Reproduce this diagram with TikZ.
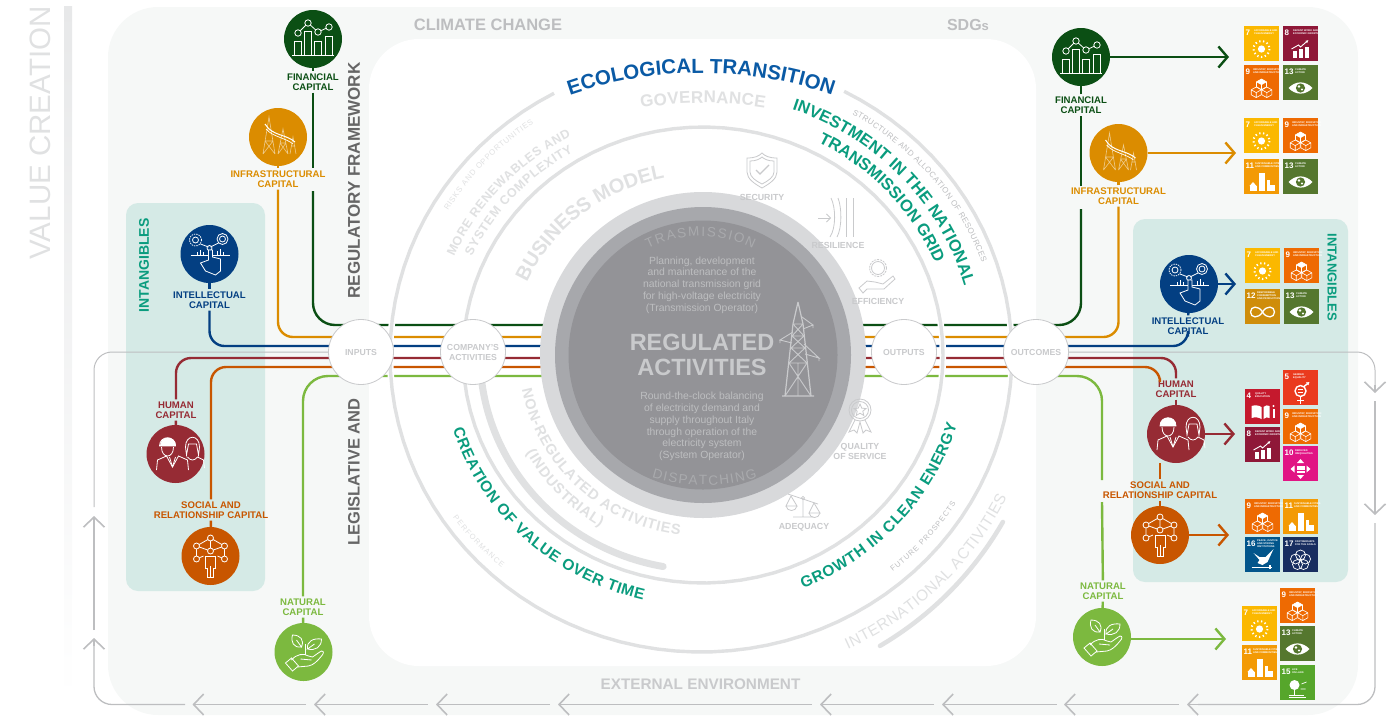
\documentclass[tikz,border=0pt]{standalone}
\usepackage{fontspec}
\setmainfont{Liberation Sans}
\usetikzlibrary{arrows.meta,positioning}
\usetikzlibrary{decorations.text}

\definecolor{panelcol}{HTML}{F6F8F7}
\definecolor{tealbox}{HTML}{D5EAE6}
\definecolor{tealtext}{HTML}{0A9C7E}
\definecolor{ecolcol}{HTML}{0A5AA5}
\definecolor{fincol}{HTML}{0B4F14}
\definecolor{infcol}{HTML}{DB8C00}
\definecolor{intcol}{HTML}{033F82}
\definecolor{humcol}{HTML}{962B34}
\definecolor{soccol}{HTML}{C85600}
\definecolor{natcol}{HTML}{7CB93F}
\definecolor{ringcol}{HTML}{E0E1E2}
\definecolor{barcol}{HTML}{E7E8E9}
\definecolor{looptone}{HTML}{BDBEC0}
\definecolor{palegray}{HTML}{C9CACC}
\definecolor{discouter}{HTML}{D8D9DB}
\definecolor{discmiddle}{HTML}{A7A8AC}
\definecolor{discinner}{HTML}{939397}
\definecolor{discword}{HTML}{A9AAAD}
\definecolor{disctext}{HTML}{BDBEC0}
\definecolor{sdgfour}{HTML}{C5192D}
\definecolor{sdgfive}{HTML}{EA3A1E}
\definecolor{sdgseven}{HTML}{FBB800}
\definecolor{sdgeight}{HTML}{8F1838}
\definecolor{sdgnine}{HTML}{EE6A02}
\definecolor{sdgten}{HTML}{E11484}
\definecolor{sdgeleven}{HTML}{F39A05}
\definecolor{sdgtwelve}{HTML}{CF8D0A}
\definecolor{sdgthirteen}{HTML}{55772E}
\definecolor{sdgfifteen}{HTML}{56A62B}
\definecolor{sdgsixteen}{HTML}{02558B}
\definecolor{sdgseventeen}{HTML}{182E60}

\newcommand{\ringarc}[7]{\draw[#7] plot[samples=90,domain=#5:#6,variable=\t] ({#1+#3*cos(\t)},{#2+#4*sin(\t)});}
\newcommand{\arctext}[8]{\path[decorate,decoration={text along path,text align={fit to path},text={|#7|#8}}] plot[samples=60,domain=#5:#6,variable=\t] ({#1+#3*cos(\t)},{#2+#4*sin(\t)});}
\newcommand{\sdgtile}[7]{
	\node[sdgbox,fill=#3] (#1) at (#2) {};
	\node[sdgnum] (#1n) at ([shift={(1.5,6.5)}]#1.north west) {#4};
	\node[sdgtitle] (#1t) at ([shift={(#5,6.5)}]#1.north west) {#6};
	\pic at ([shift={(17.5,23)}]#1.north west) {#7};
}

\tikzset{
	iconline/.style={draw=white,line width=.8},
	grayline/.style={draw=palegray,line width=.8},
	capline/.style={line width=2.4},
	caparrow/.style={line width=2.4,-{Straight Barb[length=9,width=21,line width=2.4]}},
	loopline/.style={draw=looptone,line width=1.3,rounded corners=18},
	looptip/.style={draw=looptone,line width=1.3,-{Straight Barb[length=10,width=21,line width=1.6]}},
	ringline/.style={draw=ringcol,line width=3.4,preaction={draw=white,line width=6.5}},
	capdisc/.style={circle,minimum size=58,inner sep=0},
	caplab/.style={align=center,inner sep=2,font=\fontsize{9.6}{10}\selectfont\bfseries},
	graylab/.style={align=center,inner sep=1,text=palegray,font=\fontsize{8.8}{10}\selectfont\bfseries},
	hub/.style={circle,minimum size=65,inner sep=0,align=center,fill=white,draw=palegray,line width=.8,text=palegray,font=\fontsize{8.7}{10}\selectfont\bfseries},
	sdgbox/.style={rectangle,anchor=north west,minimum size=35,inner sep=0},
	sdgnum/.style={anchor=west,inner sep=0,text=white,font=\fontsize{8}{8}\selectfont\bfseries},
	sdgtitle/.style={anchor=west,align=left,inner sep=0,text=white,font=\fontsize{2.5}{3}\selectfont\bfseries},
	pics/finicon/.style={code={
		\draw[iconline] (-21,16) -- (21,16);
		\draw[iconline] (-19,16) rectangle (-12,2);
		\draw[iconline] (-9,16) rectangle (-2,-8);
		\draw[iconline] (1,16) rectangle (8,2);
		\draw[iconline] (12,16) rectangle (19,-3);
		\draw[iconline] (-15,-6) -- (-5,-16) -- (5,-7) -- (16,-12);
		\draw[iconline,fill=fincol] (-15,-6) circle (3.2);
		\draw[iconline,fill=fincol] (-5,-16) circle (3.2);
		\draw[iconline,fill=fincol] (5,-7) circle (3.2);
		\draw[iconline,fill=fincol] (16,-12) circle (3.2);
	}},
	pics/inficon/.style={code={
		\draw[draw=white,opacity=.55,line width=.6] (-15,17) -- (-9,-20) -- (-3,17) (-13,4) -- (-5,4) (-11,-7) -- (-7,-7) (-15,17) -- (-5,4) (-3,17) -- (-13,4);
		\draw[draw=white,opacity=.55,line width=.6] (0,17) -- (5,-8) -- (10,17) (2,6) -- (8,6) (0,17) -- (8,6) (10,17) -- (2,6);
		\draw[draw=white,opacity=.55,line width=.6] (12,17) -- (15,0) -- (18,17) (13,9) -- (17,9);
		\draw[draw=white,line width=1] (-13,-13) .. controls (-6,-1) and (8,-3) .. (17,5);
		\draw[draw=white,line width=.7] (-12,-8) .. controls (-5,0) and (8,1) .. (15,7);
	}},
	pics/inticon/.style={code={
		\draw[iconline,dash pattern=on 1.4 off 1] (-14,-14) circle (6);
		\draw[iconline] (-14,-14) circle (3);
		\draw[iconline] (13,-15) circle (5.5);
		\draw[iconline] (13,-15) circle (3);
		\draw[iconline] (-9,-10) -- (-1,-7) (9,-11) -- (1,-7);
		\draw[iconline] (0,-6) circle (2.5);
		\draw[iconline] (-19,1) -- (20,1);
		\draw[iconline] (-12,1) -- (-12,-2) (-9,1) -- (-9,-4) (-6,1) -- (-6,-2) (8,1) -- (8,-3) (11,1) -- (11,-5) (14,1) -- (14,-2);
		\draw[iconline,fill=intcol] (-1,-4) -- (-1,6) -- (-9,9) -- (-4,17) -- (6,21) -- (11,17) -- (11,5) -- (3,3) -- (3,-4) -- cycle;
	}},
	pics/humicon/.style={code={
		\draw[iconline] (-19,16) -- (-18,6) -- (-9,2) -- (-3,13) -- (3,2) -- (12,6) -- (13,16);
		\draw[iconline,fill=white] (-16,-8) .. controls (-16,-19) and (0,-19) .. (0,-8) -- cycle;
		\draw[iconline] (-14,-7) .. controls (-14,5) and (-2,5) .. (-2,-7);
		\draw[iconline] (-3,13) -- (-6,3) (-3,13) -- (0,3);
		\draw[iconline] (10,-7) .. controls (10,-20) and (24,-20) .. (24,-7) -- (23,1) -- (21,-10) -- (13,-10) -- (11,1) -- cycle;
		\draw[iconline] (12,3) .. controls (15,7) and (19,7) .. (22,3) -- (28,6) -- (29,14);
	}},
	pics/socicon/.style={code={
		\draw[iconline] (0,-18) -- (14,-10) -- (14,3) -- (7,0) (0,-18) -- (-14,-10) -- (-14,3) -- (-7,0) (0,-18) -- (0,-5) (-14,-10) -- (0,-5) -- (14,-10);
		\draw[iconline,fill=soccol] (0,-18) circle (3);
		\draw[iconline,fill=soccol] (14,-10) circle (3);
		\draw[iconline,fill=soccol] (-14,-10) circle (3);
		\draw[iconline,fill=soccol] (14,3) circle (3);
		\draw[iconline,fill=soccol] (-14,3) circle (3);
		\draw[iconline,fill=soccol] (0,-5) circle (3);
		\draw[iconline,fill=soccol] (-5,0) -- (5,0) -- (5,12) -- (3,12) -- (3,21) -- (-3,21) -- (-3,12) -- (-5,12) -- cycle;
		\draw[iconline] (0,10) -- (0,21);
	}},
	pics/naticon/.style={code={
		\draw[iconline] (-2,-5) .. controls (-10,-4) and (-13,-10) .. (-11,-17) .. controls (-3,-17) and (1,-12) .. (-2,-5) -- (-7,-12);
		\draw[iconline] (4,-3) .. controls (3,-11) and (10,-14) .. (18,-13) .. controls (18,-5) and (12,-1) .. (4,-3) -- (11,-8);
		\draw[iconline] (2,-8) -- (2,3);
		\draw[iconline] (-12,8) .. controls (-7,2) and (0,1) .. (5,4) -- (9,5) .. controls (12,3) and (16,0) .. (18,-1) .. controls (21,-1) and (20,2) .. (18,4) .. controls (14,9) and (10,13) .. (5,14) -- (-6,15);
		\draw[iconline] (-3,7) -- (8,8);
		\draw[iconline] (-18,11) -- (-12,6) -- (-5,14) -- (-11,19) -- cycle;
	}},
	pics/sunicon/.style={code={
		\fill[white] (0,0) circle (3.6);
		\draw[draw=white,line width=2,dash pattern=on 1.3 off 2.6] (0,0) circle (8);
	}},
	pics/charticon/.style={code={
		\fill[white] (-8,9) rectangle (-4,2);
		\fill[white] (-2,9) rectangle (2,0);
		\fill[white] (4,9) rectangle (8,-2);
		\draw[draw=white,line width=.9,-{Latex[length=3,width=3]}] (-9,0) -- (-2,-4) -- (0,-2) -- (8,-9);
	}},
	pics/cubeone/.style={code={
		\draw[draw=white,line width=.6] (0,-5) -- (5,-2.2) -- (5,2.8) -- (0,5.6) -- (-5,2.8) -- (-5,-2.2) -- cycle (-5,-2.2) -- (0,.6) -- (5,-2.2) (0,.6) -- (0,5.6);
	}},
	pics/cubeicon/.style={code={
		\pic at (0,-4) {cubeone};
		\pic at (-5.3,4) {cubeone};
		\pic at (5.3,4) {cubeone};
		\fill[white] (0,-9) -- (5,-6.2) -- (0,-3.4) -- (-5,-6.2) -- cycle;
	}},
	pics/eyeicon/.style={code={
		\fill[white] (-12,0) .. controls (-5,-7.5) and (5,-7.5) .. (12,0) .. controls (5,7.5) and (-5,7.5) .. (-12,0) -- cycle;
		\fill[sdgthirteen] (0,0) circle (4.6);
		\fill[white] (-1.5,-1.5) circle (1.4);
		\fill[white] (1.5,1.5) circle (1.2);
	}},
	pics/cityicon/.style={code={
		\fill[white] (-12,9) rectangle (-5,4);
		\fill[white] (-12,4) -- (-8.5,0) -- (-5,4) -- cycle;
		\fill[white] (-3,9) rectangle (3,-9);
		\fill[white] (5,9) rectangle (8,-2);
		\fill[white] (8,9) rectangle (13,3);
	}},
	pics/infinityicon/.style={code={
		\draw[draw=white,line width=1.3] (0,0) .. controls (-4,-7) and (-12,-6) .. (-12,0) .. controls (-12,6) and (-4,7) .. (0,0) .. controls (4,-7) and (12,-6) .. (12,0) .. controls (12,6) and (4,7) .. (0,0);
	}},
	pics/bookicon/.style={code={
		\fill[white] (-1,-5) .. controls (-4,-7) and (-8,-7) .. (-11,-6) -- (-11,6) .. controls (-8,5) and (-4,5) .. (-1,7) -- cycle;
		\fill[white] (1,-5) .. controls (3,-7) and (5,-7) .. (7,-6) -- (7,6) .. controls (5,5) and (3,5) .. (1,7) -- cycle;
		\fill[white] (10,-3) rectangle (12,6);
		\fill[white] (11,-6) circle (1.2);
	}},
	pics/gendericon/.style={code={
		\draw[draw=white,line width=1.4] (0,-2) circle (5.5);
		\draw[draw=white,line width=1.4] (0,3.5) -- (0,11) (-3.5,7.5) -- (3.5,7.5);
		\draw[draw=white,line width=1.4,-{Latex[length=3,width=4]}] (3.5,-6.5) -- (9,-11);
		\fill[white] (-2.8,-4) rectangle (2.8,-2.8);
		\fill[white] (-2.8,-1.4) rectangle (2.8,-.2);
	}},
	pics/ineqicon/.style={code={
		\fill[white] (-4,-3) rectangle (4,-1.3);
		\fill[white] (-4,-.6) rectangle (4,1.1);
		\fill[white] (-4,1.8) rectangle (4,3.5);
		\fill[white] (0,-10) -- (3.5,-6) -- (-3.5,-6) -- cycle;
		\fill[white] (0,10) -- (3.5,6) -- (-3.5,6) -- cycle;
		\fill[white] (-10,0) -- (-6,3.5) -- (-6,-3.5) -- cycle;
		\fill[white] (10,0) -- (6,3.5) -- (6,-3.5) -- cycle;
	}},
	pics/doveicon/.style={code={
		\fill[white] (-9,-7) -- (-3,-3) -- (3,-3) -- (11,-11) -- (5,2) -- (0,5) -- (-5,3) -- (-3,0) -- cycle;
		\draw[draw=white,line width=.8] (-11,7) -- (9,7);
		\draw[draw=white,line width=2] (7,5) -- (7,9);
	}},
	pics/flowericon/.style={code={
		\draw[draw=white,line width=.7] (0,-5) circle (5);
		\draw[draw=white,line width=.7] (-5,-1) circle (5);
		\draw[draw=white,line width=.7] (5,-1) circle (5);
		\draw[draw=white,line width=.7] (-3,4.5) circle (5);
		\draw[draw=white,line width=.7] (3,4.5) circle (5);
	}},
	pics/treeicon/.style={code={
		\fill[white] (-3,-3) circle (5);
		\fill[white] (-3.6,1) rectangle (-2.4,7);
		\draw[draw=white,line width=.8] (-9,7) -- (6,7) (-9,9) -- (8,9);
		\draw[draw=white,line width=.7] (4,-4) -- (9,-6) (3,1) -- (8,1);
	}},
	pics/shieldicon/.style={code={
		\draw[grayline] (-15,-12) .. controls (-7,-12) and (-3,-14) .. (0,-17) .. controls (3,-14) and (7,-12) .. (15,-12) -- (15,2) .. controls (15,9) and (7,14) .. (0,18) .. controls (-7,14) and (-15,9) .. (-15,2) -- cycle;
		\draw[grayline] (-12,-9) .. controls (-6,-9) and (-2,-11) .. (0,-13) .. controls (2,-11) and (6,-9) .. (12,-9) -- (12,2) .. controls (12,7) and (6,11) .. (0,14) .. controls (-6,11) and (-12,7) .. (-12,2) -- cycle;
		\draw[draw=palegray,line width=1.2] (-6,0) -- (-2,4) -- (7,-5);
	}},
	pics/resilicon/.style={code={
		\draw[draw=palegray,line width=.8,-{Straight Barb[length=4,width=8]}] (-20,0) -- (-7,0);
		\draw[grayline] (-7,-20) .. controls (-2,-10) and (-2,10) .. (-8,19);
		\draw[grayline] (0,-20) .. controls (4,-10) and (4,10) .. (-1,19);
		\draw[grayline] (8,-20) -- (8,19) (15,-20) -- (15,19);
	}},
	pics/gearhand/.style={code={
		\draw[grayline,dash pattern=on 2 off 1] (0,-9) circle (8.5);
		\draw[grayline] (0,-9) circle (6.5);
		\draw[grayline] (-19,11) -- (-11,4) -- (-3,5) -- (5,7) -- (15,-1) -- (17,2) -- (6,12) -- (-11,12) -- (-15,16) -- cycle;
	}},
	pics/medalicon/.style={code={
		\draw[grayline] (0,0) circle (11);
		\draw[grayline] (0,0) circle (8.5);
		\draw[grayline] (0,-6) -- (1.8,-1.8) -- (6,-1.5) -- (2.8,1.2) -- (3.8,5.5) -- (0,3.2) -- (-3.8,5.5) -- (-2.8,1.2) -- (-6,-1.5) -- (-1.8,-1.8) -- cycle;
		\draw[grayline] (-5,10) -- (-11,22) -- (-6,20) -- (-3,23) -- (0,12) -- (3,23) -- (6,20) -- (11,22) -- (5,10);
	}},
	pics/scaleicon/.style={code={
		\draw[grayline] (-15,-6) -- (15,4) (0,-2) -- (0,17) (-10,17) -- (10,17);
		\draw[grayline] (0,-2) circle (1.6);
		\draw[grayline] (-12,-4) -- (-17,6) -- (-6,6) -- cycle;
		\draw[grayline] (-17,6) .. controls (-16,12) and (-7,12) .. (-6,6);
		\draw[grayline] (11,3) -- (6,13) -- (17,13) -- cycle;
		\draw[grayline] (6,13) .. controls (7,19) and (16,19) .. (17,13);
	}},
	pics/towericon/.style={code={
		\draw[draw=palegray,line width=1.2] (0,-47) -- (-5,-25) -- (-13,47) (0,-47) -- (5,-25) -- (13,47) (-16,47) -- (16,47);
		\draw[draw=palegray,line width=.9] (-5,-25) -- (5,-25) (-6,-13) -- (6,-13) (-7,-1) -- (7,-1) (-9,14) -- (9,14) (-5,-25) -- (6,-13) (5,-25) -- (-6,-13) (-6,-13) -- (7,-1) (6,-13) -- (-7,-1) (-7,-1) -- (9,14) (7,-1) -- (-9,14) (-9,14) -- (13,47) (9,14) -- (-13,47) (0,14) -- (0,47);
		\draw[draw=palegray,line width=.9] (4,-32) -- (15,-24) -- (5,-20) (15,-24) -- (15,-21);
		\draw[draw=palegray,line width=.9] (-5,-17) -- (-18,-9) -- (-6,-6) (-18,-9) -- (-18,-6);
		\draw[draw=palegray,line width=.9] (6,-5) -- (21,9) -- (7,5) (21,9) -- (21,12);
	}},
}

\begin{document}
\begin{tikzpicture}[x=1pt,y=-1pt]
	\useasboundingbox (0,0) rectangle (1395,716);

	\shade[top color=barcol,bottom color=white] (64,6) rectangle (72,700);
	\node[rotate=90,inner sep=0,text=ringcol,font=\fontsize{29.5}{30}\selectfont] (valuetxt) at (40,133) {VALUE CREATION};

	\fill[panelcol,rounded corners=50] (108,7) rectangle (1358,715);
	\fill[white,rounded corners=50] (369,39) rectangle (1036,666);
	\fill[tealbox,rounded corners=12] (126,203) rectangle (265,591);
	\fill[tealbox,rounded corners=12] (1133,219) rectangle (1348,582);

	\node[font=\fontsize{16.5}{17}\selectfont\bfseries,text=looptone] (climatetxt) at (488,25) {CLIMATE CHANGE};
	\node[font=\fontsize{16}{17}\selectfont\bfseries,text=looptone] (sdgtxt) at (968,25) {SDG{\fontsize{13}{13}\selectfont s}};
	\node[font=\fontsize{15.3}{16}\selectfont\bfseries,text=palegray] (externaltxt) at (700.5,684) {EXTERNAL ENVIRONMENT};
	\node[rotate=90,font=\fontsize{17}{17}\selectfont\bfseries,text=black!60] (regtxt) at (354,180.5) {REGULATORY FRAMEWORK};
	\node[rotate=90,font=\fontsize{16.5}{17}\selectfont\bfseries,text=black!60] (legtxt) at (354,472) {LEGISLATIVE AND};
	\node[rotate=90,font=\fontsize{14}{14}\selectfont\bfseries,text=tealtext] (intanleft) at (144,265.5) {INTANGIBLES};
	\node[rotate=-90,font=\fontsize{13}{14}\selectfont\bfseries,text=tealtext] (intanright) at (1332,277.5) {INTANGIBLES};

	\coordinate (busfin) at (703,325);
	\coordinate (businf) at (703,337);
	\coordinate (busint) at (703,346);
	\coordinate (bushum) at (703,358);
	\coordinate (bussoc) at (703,367);
	\coordinate (busnat) at (703,376);

	\node[capdisc,fill=fincol] (finL) at (313,39) {};
	\node[capdisc,fill=infcol] (infL) at (278,137) {};
	\node[capdisc,fill=intcol] (intL) at (209.5,254) {};
	\node[capdisc,fill=humcol] (humL) at (175.5,454) {};
	\node[capdisc,fill=soccol] (socL) at (210.5,556) {};
	\node[capdisc,fill=natcol] (natL) at (303.5,652) {};
	\node[capdisc,fill=fincol] (finR) at (1081,57) {};
	\node[capdisc,fill=infcol] (infR) at (1118.5,153) {};
	\node[capdisc,fill=intcol] (intR) at (1189,284) {};
	\node[capdisc,fill=humcol] (humR) at (1176,434) {};
	\node[capdisc,fill=soccol] (socR) at (1160,535) {};
	\node[capdisc,fill=natcol] (natR) at (1102,637) {};

	\node[caplab,text=fincol] (finLlab) at (313,82) {FINANCIAL\\CAPITAL};
	\node[caplab,text=infcol] (infLlab) at (278,179) {INFRASTRUCTURAL\\CAPITAL};
	\node[caplab,text=intcol] (intLlab) at (209.5,300) {INTELLECTUAL\\CAPITAL};
	\node[caplab,text=humcol] (humLlab) at (176,410) {HUMAN\\CAPITAL};
	\node[caplab,text=soccol] (socLlab) at (211,510) {SOCIAL AND\\RELATIONSHIP CAPITAL};
	\node[caplab,text=natcol] (natLlab) at (303,607) {NATURAL\\CAPITAL};
	\node[caplab,text=fincol] (finRlab) at (1081,105) {FINANCIAL\\CAPITAL};
	\node[caplab,text=infcol] (infRlab) at (1118.5,196) {INFRASTRUCTURAL\\CAPITAL};
	\node[caplab,text=intcol] (intRlab) at (1188,326) {INTELLECTUAL\\CAPITAL};
	\node[caplab,text=humcol] (humRlab) at (1176,389) {HUMAN\\CAPITAL};
	\node[caplab,text=soccol] (socRlab) at (1160,490) {SOCIAL AND\\RELATIONSHIP CAPITAL};
	\node[caplab,text=natcol] (natRlab) at (1103,591) {NATURAL\\CAPITAL};

	\coordinate (finbreakA) at (313,168);
	\coordinate (finbreakB) at (313,191);
	\coordinate (finbreakC) at (1081,186);
	\coordinate (finbreakD) at (1081,209);
	\coordinate (natbreakA) at (1102,480);
	\coordinate (natbreakB) at (1102,502);
	\coordinate (loopleft) at (329,352);
	\coordinate (loopright) at (1069,352);
	\coordinate (loopcorner) at (1375,385);

	\draw[loopline,line width=1] (94,507) |- (loopleft);
	\draw[loopline,line width=1] (loopright) -| (loopcorner);

	\draw[capline,draw=fincol] (finL) -- (finLlab);
	\draw[capline,draw=fincol] (finLlab) -- (finbreakA);
	\draw[capline,draw=fincol,rounded corners=22] (finbreakB) |- (busfin) -| (finbreakD);
	\draw[capline,draw=fincol] (finbreakC) -- (finRlab);
	\draw[capline,draw=fincol] (finRlab) -- (finR);
	\draw[capline,draw=infcol] (infL) -- (infLlab);
	\draw[capline,draw=infcol,rounded corners=15] (infLlab) |- (businf) -| (infRlab);
	\draw[capline,draw=infcol] (infRlab) -- (infR);
	\draw[capline,draw=intcol] (intL) -- (intLlab);
	\draw[capline,draw=intcol,rounded corners=15] (intLlab) |- (busint) -| (intRlab);
	\draw[capline,draw=intcol] (intRlab) -- (intR);
	\draw[capline,draw=humcol] (humL) -- (humLlab);
	\draw[capline,draw=humcol,rounded corners=15] (humLlab) |- (bushum) -| (humRlab);
	\draw[capline,draw=humcol] (humRlab) -- (humR);
	\draw[capline,draw=soccol] (socL) -- (socLlab);
	\draw[capline,draw=soccol,rounded corners=15] (socLlab) |- (bussoc) -| (humRlab.north -| socR);
	\draw[capline,draw=soccol] (socRlab) -- (socR);
	\draw[capline,draw=soccol] (humR.south -| socR) -- (socRlab);
	\draw[capline,draw=natcol] (natL) -- (natLlab);
	\draw[capline,draw=natcol,rounded corners=25] (natLlab) |- (busnat) -| (natbreakA);
	\draw[capline,draw=natcol] (natbreakB) -- (natRlab);
	\draw[capline,draw=natcol] (natRlab) -- (natR);

	\ringarc{701}{355}{311}{297}{-62.6}{241.8}{ringline}
	\ringarc{703}{355}{240}{228}{0}{360}{ringline}
	\ringarc{703}{355}{223}{215}{178}{100.3}{draw=ringcol,line width=7,line cap=round}
	\ringarc{703}{355}{344.6}{339}{59.1}{29.5}{draw=ringcol,line width=4.5,line cap=round}

	\node[circle,minimum size=326,inner sep=0,fill=discouter] (discA) at (703,355) {};
	\node[circle,minimum size=296,inner sep=0,fill=discmiddle] (discB) at (703,355) {};
	\node[circle,minimum size=269,inner sep=0,fill=discinner] (discC) at (703,355) {};

	\node[hub] (hubIn) at (361,352) {INPUTS};
	\node[hub] (hubCo) at (473,352) {COMPANY'S\\ACTIVITIES};
	\node[hub] (hubOt) at (904,352) {OUTPUTS};
	\node[hub] (hubOc) at (1036,352) {OUTCOMES};

	\arctext{701}{474}{401}{401}{250.9}{289.1}{\fontsize{20.5}{20.5}\selectfont\bfseries\color{ecolcol}}{ECOLOGICAL TRANSITION}
	\arctext{703}{490}{387}{387}{260.8}{279.2}{\fontsize{17}{17}\selectfont\bfseries\color{ringcol}}{GOVERNANCE}
	\arctext{703}{355}{271}{260}{-70.8}{-15.4}{\fontsize{16.5}{16.5}\selectfont\bfseries\color{tealtext}}{INVESTMENT IN THE NATIONAL}
	\arctext{703}{355}{251}{239.6}{-62.7}{-23.1}{\fontsize{16.5}{16.5}\selectfont\bfseries\color{tealtext}}{TRANSMISSION GRID}
	\arctext{703}{355}{295.5}{279}{-59.7}{-19.3}{\fontsize{8}{8}\selectfont\color{looptone}}{STRUCTURE AND ALLOCATION OF RESOURCES}
	\arctext{703}{355}{270.5}{250.9}{203}{240.8}{\fontsize{12.5}{12.5}\selectfont\bfseries\color{ringcol}}{MORE RENEWABLES AND}
	\arctext{703}{355}{253.9}{236.4}{204.5}{239.2}{\fontsize{12.5}{12.5}\selectfont\bfseries\color{ringcol}}{SYSTEM COMPLEXITY}
	\arctext{703}{355}{296.5}{282.4}{210.7}{235.2}{\fontsize{7.8}{8}\selectfont\color{ringcol}}{RISKS AND OPPORTUNITIES}
	\arctext{703}{355}{191.9}{180.8}{203.5}{258}{\fontsize{20}{20}\selectfont\bfseries\color{ringcol}}{BUSINESS MODEL}
	\arctext{703}{355}{184.5}{181.4}{168.9}{97.2}{\fontsize{14.5}{14.5}\selectfont\bfseries\color{ringcol}}{NON-REGULATED ACTIVITIES}
	\arctext{703}{355}{203}{199.5}{150.6}{120.4}{\fontsize{14.5}{14.5}\selectfont\bfseries\color{ringcol}}{(INDUSTRIAL)}
	\arctext{703}{355}{261.9}{251.7}{162.7}{103.2}{\fontsize{15.5}{15.5}\selectfont\bfseries\color{tealtext}}{CREATION OF VALUE OVER TIME}
	\arctext{703}{355}{306}{282.4}{144.8}{131.1}{\fontsize{7.5}{8}\selectfont\color{ringcol}}{PERFORMANCE}
	\arctext{703}{355}{264.2}{251.9}{67.75}{15.97}{\fontsize{15.5}{15.5}\selectfont\bfseries\color{tealtext}}{GROWTH IN CLEAN ENERGY}
	\arctext{703}{355}{298}{281.6}{50.4}{31.9}{\fontsize{7.5}{8}\selectfont\color{looptone}}{FUTURE PROSPECTS}
	\arctext{703}{355}{337.9}{325.5}{64.6}{25.9}{\fontsize{15.5}{15.5}\selectfont\color{ringcol}}{INTERNATIONAL ACTIVITIES}
	\arctext{700.5}{356}{120}{120}{244}{296}{\fontsize{13.5}{13.5}\selectfont\color{discword}}{TRASMISSION}
	\arctext{704.5}{305}{180}{180}{107}{73}{\fontsize{13.5}{13.5}\selectfont\color{discword}}{DISPATCHING}

	\node[align=center,inner sep=0,text=disctext,font=\fontsize{10.4}{11.7}\selectfont] (planningtxt) at (702,285) {Planning, development\\and maintenance of the\\national transmission grid\\for high-voltage electricity\\(Transmission Operator)};
	\node[align=center,inner sep=0,text=palegray,font=\fontsize{23.5}{25}\selectfont\bfseries] (regulatedtxt) at (702,355) {REGULATED\\ACTIVITIES};
	\node[align=center,inner sep=0,text=disctext,font=\fontsize{10.4}{11.7}\selectfont] (roundtxt) at (702,426.5) {Round-the-clock balancing\\of electricity demand and\\supply throughout Italy\\through operation of the\\electricity system\\(System Operator)};
	\pic at (798,349) {towericon};

	\pic at (762,170) {shieldicon};
	\node[graylab] (securitytxt) at (762,197) {SECURITY};
	\pic at (838,218) {resilicon};
	\node[graylab] (resiltxt) at (838,245) {RESILIENCE};
	\pic at (878,277) {gearhand};
	\node[graylab] (efficiencytxt) at (878,301) {EFFICIENCY};
	\pic at (860,410) {medalicon};
	\node[graylab] (qualitytxt) at (860,451) {QUALITY\\OF SERVICE};
	\pic at (803,500) {scaleicon};
	\node[graylab] (adequacytxt) at (804,527) {ADEQUACY};

	\pic at (finL) {finicon};
	\pic at (infL) {inficon};
	\pic at (intL) {inticon};
	\pic at (humL) {humicon};
	\pic at (socL) {socicon};
	\pic at (natL) {naticon};
	\pic at (finR) {finicon};
	\pic at (infR) {inficon};
	\pic at (intR) {inticon};
	\pic at (humR) {humicon};
	\pic at (socR) {socicon};
	\pic at (natR) {naticon};

	\coordinate (finend) at (1229,57);
	\coordinate (infend) at (1236,153);
	\coordinate (intend) at (1236,284);
	\coordinate (humend) at (1235,434);
	\coordinate (socend) at (1229,535);
	\coordinate (natend) at (1226,639);
	\draw[caparrow,draw=fincol] (finR) -- (finend);
	\draw[caparrow,draw=infcol] (infR) -- (infend);
	\draw[caparrow,draw=intcol] (intR) -- (intend);
	\draw[caparrow,draw=humcol] (humR) -- (humend);
	\draw[caparrow,draw=soccol] (socR) -- (socend);
	\draw[caparrow,draw=natcol] (natR.east |- natend) -- (natend);

	\draw[looptip] (loopcorner) -- (1375,393);
	\draw[looptip] (1375,401) -- (1375,515);
	\draw[loopline] (1375,523) |- (1198,704.5);
	\draw[looptip] (1198,704.5) -- (1187,704.5);
	\draw[looptip] (1179,704.5) -- (1064,704.5);
	\draw[looptip] (1057,704.5) -- (942,704.5);
	\draw[looptip] (934,704.5) -- (820,704.5);
	\draw[looptip] (812,704.5) -- (558,704.5);
	\draw[looptip] (550,704.5) -- (436,704.5);
	\draw[looptip] (428,704.5) -- (314,704.5);
	\draw[looptip] (306,704.5) -- (192.5,704.5);
	\draw[loopline] (185,704.5) -| (94,646);
	\draw[looptip] (94,646) -- (94,638);
	\draw[looptip] (94,630) -- (94,516);

	\sdgtile{fa}{1244,26}{sdgseven}{7}{10}{AFFORDABLE AND\\CLEAN ENERGY}{sunicon}
	\sdgtile{fb}{1283,26}{sdgeight}{8}{10}{DECENT WORK AND\\ECONOMIC GROWTH}{charticon}
	\sdgtile{fc}{1244,65}{sdgnine}{9}{9}{INDUSTRY, INNOVATION\\AND INFRASTRUCTURE}{cubeicon}
	\sdgtile{fd}{1283,65}{sdgthirteen}{13}{12}{CLIMATE\\ACTION}{eyeicon}
	\sdgtile{ia}{1244,118}{sdgseven}{7}{10}{AFFORDABLE AND\\CLEAN ENERGY}{sunicon}
	\sdgtile{ib}{1283,118}{sdgnine}{9}{9}{INDUSTRY, INNOVATION\\AND INFRASTRUCTURE}{cubeicon}
	\sdgtile{ic}{1244,159}{sdgeleven}{11}{11}{SUSTAINABLE CITIES\\AND COMMUNITIES}{cityicon}
	\sdgtile{id}{1283,159}{sdgthirteen}{13}{12}{CLIMATE\\ACTION}{eyeicon}
	\sdgtile{na}{1245,248}{sdgseven}{7}{10}{AFFORDABLE AND\\CLEAN ENERGY}{sunicon}
	\sdgtile{nb}{1284,248}{sdgnine}{9}{9}{INDUSTRY, INNOVATION\\AND INFRASTRUCTURE}{cubeicon}
	\sdgtile{nc}{1245,289}{sdgtwelve}{12}{12}{RESPONSIBLE\\CONSUMPTION\\AND PRODUCTION}{infinityicon}
	\sdgtile{nd}{1284,289}{sdgthirteen}{13}{12}{CLIMATE\\ACTION}{eyeicon}
	\sdgtile{ha}{1245,389}{sdgfour}{4}{10}{QUALITY\\EDUCATION}{bookicon}
	\sdgtile{hb}{1245,427}{sdgeight}{8}{10}{DECENT WORK AND\\ECONOMIC GROWTH}{charticon}
	\sdgtile{hc}{1283,370}{sdgfive}{5}{10}{GENDER\\EQUALITY}{gendericon}
	\sdgtile{hd}{1283,409}{sdgnine}{9}{9}{INDUSTRY, INNOVATION\\AND INFRASTRUCTURE}{cubeicon}
	\sdgtile{he}{1283,446}{sdgten}{10}{12}{REDUCED\\INEQUALITIES}{ineqicon}
	\sdgtile{sa}{1245,499}{sdgnine}{9}{9}{INDUSTRY, INNOVATION\\AND INFRASTRUCTURE}{cubeicon}
	\sdgtile{sb}{1283,499}{sdgeleven}{11}{11}{SUSTAINABLE CITIES\\AND COMMUNITIES}{cityicon}
	\sdgtile{sc}{1245,537}{sdgsixteen}{16}{12}{PEACE, JUSTICE\\AND STRONG\\INSTITUTIONS}{doveicon}
	\sdgtile{sd}{1283,537}{sdgseventeen}{17}{12}{PARTNERSHIPS\\FOR THE GOALS}{flowericon}
	\sdgtile{ra}{1242,606}{sdgseven}{7}{10}{AFFORDABLE AND\\CLEAN ENERGY}{sunicon}
	\sdgtile{rb}{1242,645}{sdgeleven}{11}{11}{SUSTAINABLE CITIES\\AND COMMUNITIES}{cityicon}
	\sdgtile{rc}{1280,588}{sdgnine}{9}{9}{INDUSTRY, INNOVATION\\AND INFRASTRUCTURE}{cubeicon}
	\sdgtile{rd}{1280,626}{sdgthirteen}{13}{12}{CLIMATE\\ACTION}{eyeicon}
	\sdgtile{re}{1280,665}{sdgfifteen}{15}{12}{LIFE\\ON LAND}{treeicon}
\end{tikzpicture}
\end{document}
